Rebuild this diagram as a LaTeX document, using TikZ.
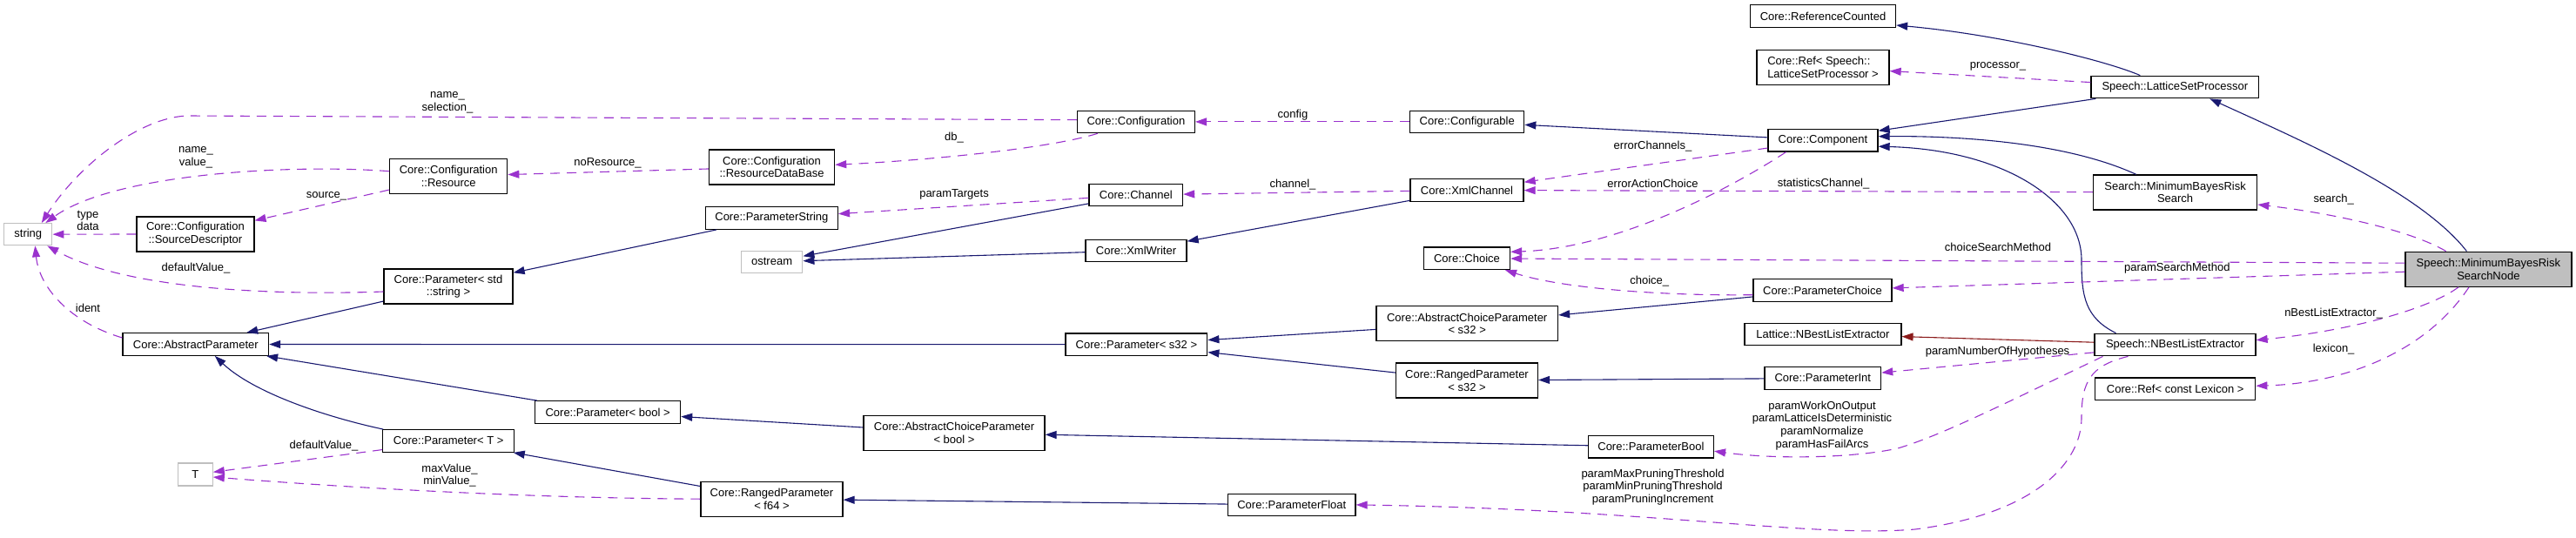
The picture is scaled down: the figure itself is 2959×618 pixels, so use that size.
\documentclass[tikz,border=0pt]{standalone}
\usepackage{fontspec}
\setmainfont{Liberation Sans}
\usetikzlibrary{arrows.meta}
\definecolor{navyc}{HTML}{191970}
\definecolor{orchidc}{HTML}{9A32CD}
\definecolor{redc}{HTML}{8B1A1A}
\definecolor{lgrayc}{HTML}{BFBFBF}
\begin{document}
\begin{tikzpicture}[x=1pt,y=-1pt,
  font=\fontsize{13}{14.7}\selectfont,
  cls/.style={draw=black, line width=1.3pt, fill=white, inner sep=0pt, minimum height=25.5pt, align=center},
  cls2/.style={cls, minimum height=40pt},
  ext/.style={draw=lgrayc, line width=1.3pt, fill=white, inner sep=0pt, minimum height=25pt},
  lbl/.style={inner sep=0pt, align=center},
  inh/.style={draw=navyc, line width=1.1pt, -{Triangle[length=13pt,width=9pt]}},
  use/.style={draw=orchidc, line width=1.1pt, dash pattern=on 11pt off 8pt, -{Triangle[length=13pt,width=9pt]}},
  pvt/.style={draw=redc, line width=1.1pt, -{Triangle[length=13pt,width=9pt]}},
]
\useasboundingbox (0,0) rectangle (2959,618);

% ---------- nodes ----------
\node[ext, minimum width=55pt] (string) at (32.3,269.2) {string};
\node[cls2, minimum width=135pt] (cfgResource) at (515.2,202.5) {Core::Configuration\\::Resource};
\node[cls2, minimum width=135pt] (srcDesc) at (224.4,268.9) {Core::Configuration\\::SourceDescriptor};
\node[cls2, minimum width=148pt] (paramStdString) at (515,329) {Core::Parameter< std\\::string >};
\node[cls, minimum width=167.5pt] (absParam) at (224.8,395.5) {Core::AbstractParameter};
\node[cls, minimum width=167pt] (paramBool) at (698.1,473.5) {Core::Parameter< bool >};
\node[cls, minimum width=151pt] (paramT) at (515.2,506.5) {Core::Parameter< T >};
\node[ext, minimum width=39.5pt, minimum height=26pt] (T) at (224.4,545) {T};
\node[cls, minimum width=135pt] (configuration) at (1304.9,139.9) {Core::Configuration};
\node[cls2, minimum width=144pt] (resDB) at (886.6,191.9) {Core::Configuration\\::ResourceDataBase};
\node[cls, minimum width=152pt] (paramString) at (886.4,250.5) {Core::ParameterString};
\node[cls, minimum width=107.5pt] (channel) at (1304.8,223.9) {Core::Channel};
\node[cls, minimum width=116pt] (xmlWriter) at (1305,287.9) {Core::XmlWriter};
\node[ext, minimum width=70.4pt] (ostream) at (886.6,300.8) {ostream};
\node[cls, minimum width=162.7pt] (paramS32) at (1305.4,395.7) {Core::Parameter< s32 >};
\node[cls2, minimum width=208pt] (acpBool) at (1096,497.2) {Core::AbstractChoiceParameter\\< bool >};
\node[cls2, minimum width=163pt] (rpF64) at (886.5,573.2) {Core::RangedParameter\\< f64 >};
\node[cls, minimum width=146.4pt] (paramFloat) at (1483.8,579.9) {Core::ParameterFloat};
\node[cls, minimum width=167pt] (refCounted) at (2094,18.5) {Core::ReferenceCounted};
\node[cls2, minimum width=152pt, align=left] (refLSP) at (2094,77.3) {Core::Ref< Speech::\\LatticeSetProcessor >};
\node[cls, minimum width=131pt] (configurable) at (1685.2,139.9) {Core::Configurable};
\node[cls, minimum width=126pt] (component) at (2094,161.2) {Core::Component};
\node[cls, minimum width=130pt] (xmlChannel) at (1685,218.4) {Core::XmlChannel};
\node[cls, minimum width=99pt] (choice) at (1685,296.8) {Core::Choice};
\node[cls, minimum width=159pt] (paramChoice) at (2093.5,333.4) {Core::ParameterChoice};
\node[cls2, minimum width=208.5pt] (acpS32) at (1685.2,371.8) {Core::AbstractChoiceParameter\\< s32 >};
\node[cls, minimum width=180pt] (latticeNBest) at (2093.9,383.9) {Lattice::NBestListExtractor};
\node[cls, minimum width=133.6pt] (paramInt) at (2093.8,434.5) {Core::ParameterInt};
\node[cls2, minimum width=163pt] (rpS32) at (1685,437) {Core::RangedParameter\\< s32 >};
\node[cls, minimum width=144pt] (paramBoolC) at (1896.4,513.2) {Core::ParameterBool};
\node[cls, minimum width=192.6pt] (lsp) at (2498.3,100) {Speech::LatticeSetProcessor};
\node[cls2, minimum width=188pt] (mbrSearch) at (2498.6,221) {Search::MinimumBayesRisk\\Search};
\node[cls2, minimum width=191pt, fill=lgrayc] (searchNode) at (2858.4,309.2) {Speech::MinimumBayesRisk\\SearchNode};
\node[cls, minimum width=185pt] (nbest) at (2498.5,396) {Speech::NBestListExtractor};
\node[cls, minimum width=184pt] (refLex) at (2498.7,446.7) {Core::Ref< const Lexicon >};

% ---------- inheritance ----------
\draw[inh] (paramStdString) -- (absParam);
\draw[inh] (paramBool) -- (absParam);
\draw[inh] ([xshift=-75pt]paramT.north) .. controls (370,478) and (290,450) .. ([xshift=22pt]absParam.south);
\draw[inh] (paramS32) -- (absParam);
\draw[inh] (rpF64) -- (paramT);
\draw[inh] (paramString) -- (paramStdString);
\draw[inh] (channel) -- (ostream);
\draw[inh] (xmlWriter) -- (ostream);
\draw[inh] (xmlChannel) -- (xmlWriter);
\draw[inh] (component) -- (configurable);
\draw[inh] (lsp) -- ([yshift=11pt]component.east);
\draw[inh] (mbrSearch) .. controls (2377,165) and (2260,156) .. ([yshift=4.5pt]component.east);
\draw[inh] ([xshift=-68pt]nbest.north) .. controls (2395,365) and (2391,340) .. (2391,300) .. controls (2392,230) and (2300,172) .. ([yshift=-7pt]component.east);
\draw[inh] ([xshift=-40pt]lsp.north) .. controls (2420,70) and (2300,40) .. ([yshift=-10.5pt]refCounted.east);
\draw[inh] ([xshift=-25pt]searchNode.north) .. controls (2780,220) and (2640,160) .. ([xshift=40pt]lsp.south);
\draw[inh] (paramChoice) -- (acpS32);
\draw[inh] (acpS32) -- (paramS32);
\draw[inh] (rpS32) -- (paramS32);
\draw[inh] (paramInt) -- (rpS32);
\draw[inh] (paramBoolC) -- (acpBool);
\draw[inh] (acpBool) -- (paramBool);
\draw[inh] (paramFloat) -- (rpF64);
\draw[pvt] (nbest) -- (latticeNBest);

% ---------- usage ----------
\draw[use] ([yshift=2.2pt]configuration.west) -- (215,133) .. controls (160,135) and (90,190) .. ([xshift=15.5pt]string.north);
\draw[use] ([yshift=5.8pt]cfgResource.west) .. controls (330,188) and (130,200) .. ([xshift=20pt]string.north);
\draw[use] (srcDesc) -- (string);
\draw[use] ([yshift=-6pt]paramStdString.west) .. controls (300,340) and (140,330) .. ([xshift=22pt]string.south);
\draw[use] ([yshift=7.5pt]absParam.west) .. controls (80,370) and (45,330) .. ([xshift=8pt]string.south);
\draw[use] (resDB) -- (cfgResource);
\draw[use] (cfgResource) -- (srcDesc);
\draw[use] ([xshift=-44pt]configuration.south) .. controls (1200,172) and (1050,185) .. ([yshift=2.6pt]resDB.east);
\draw[use] (channel) -- (paramString);
\draw[use] (configurable) -- (configuration);
\draw[use] (xmlChannel) -- (channel);
\draw[use] (component) -- (xmlChannel);
\draw[use] (mbrSearch) -- (xmlChannel);
\draw[use] ([xshift=-42.4pt]component.south) .. controls (1990,215) and (1860,285) .. ([yshift=7.5pt]choice.east);
\draw[use] ([yshift=-5.3pt]paramChoice.west) .. controls (1900,340) and (1790,330) .. ([xshift=44pt]choice.south);
\draw[use] ([yshift=7pt]searchNode.west) -- (choice);
\draw[use] (searchNode) -- (paramChoice);
\draw[use] (lsp) -- (refLSP);
\draw[use] ([xshift=-48.8pt]searchNode.north) .. controls (2770,265) and (2680,245) .. ([yshift=-14pt]mbrSearch.east);
\draw[use] ([xshift=-34.4pt]searchNode.south) .. controls (2790,355) and (2700,380) .. ([yshift=5.3pt]nbest.east);
\draw[use] ([xshift=-22.4pt]searchNode.south) .. controls (2790,400) and (2700,440) .. ([yshift=3.4pt]refLex.east);
\draw[use] (nbest) -- (paramInt);
\draw[use] ([xshift=-83pt]nbest.south) .. controls (2300,465) and (2230,500) .. (2180,515) .. controls (2130,526) and (2040,528) .. ([yshift=-5pt]paramBoolC.east);
\draw[use] ([xshift=-54pt]nbest.south) .. controls (2400,420) and (2391,440) .. (2391,480) .. controls (2391,530) and (2340,590) .. (2200,608) .. controls (2080,618) and (1900,585) .. (paramFloat.east);
\draw[use] (paramT) -- (T);
\draw[use] (rpF64.west) .. controls (600,572) and (400,560) .. ([yshift=-3pt]T.east);

% ---------- labels ----------
\node[lbl] (lNameSel) at (514,118) {name\_\\selection\_};
\node[lbl] (lNameVal) at (225,180.5) {name\_\\value\_};
\node[lbl] (lTypeData) at (101,253.5) {type\\data};
\node[lbl] (lDefStr) at (225,308) {defaultValue\_};
\node[lbl] (lIdent) at (101,354) {ident};
\node[lbl] (lNoRes) at (698,187) {noResource\_};
\node[lbl] (lSource) at (375,225) {source\_};
\node[lbl] (lDb) at (1096,158) {db\_};
\node[lbl] (lTargets) at (1096,223) {paramTargets};
\node[lbl] (lConfig) at (1485,132) {config};
\node[lbl] (lChannel) at (1485,212) {channel\_};
\node[lbl] (lErrCh) at (1898.5,168) {errorChannels\_};
\node[lbl] (lErrAct) at (1898.5,211) {errorActionChoice};
\node[lbl] (lStat) at (2094.6,210.7) {statisticsChannel\_};
\node[lbl] (lChoice) at (1894.7,322.7) {choice\_};
\node[lbl] (lChoiceSM) at (2295,283.7) {choiceSearchMethod};
\node[lbl] (lParamSM) at (2500.8,308) {paramSearchMethod};
\node[lbl] (lProc) at (2295,76) {processor\_};
\node[lbl] (lSearch) at (2680.6,229) {search\_};
\node[lbl] (lNBest) at (2680.6,360) {nBestListExtractor\_};
\node[lbl] (lLex) at (2680.6,400.7) {lexicon\_};
\node[lbl] (lHyp) at (2294.5,403.7) {paramNumberOfHypotheses};
\node[lbl] (lBools) at (2093,488.7) {paramWorkOnOutput\\paramLatticeIsDeterministic\\paramNormalize\\paramHasFailArcs};
\node[lbl] (lFloats) at (1898.5,559.5) {paramMaxPruningThreshold\\paramMinPruningThreshold\\paramPruningIncrement};
\node[lbl] (lDefT) at (372,512) {defaultValue\_};
\node[lbl] (lMaxMin) at (516.5,546) {maxValue\_\\minValue\_};
\end{tikzpicture}
\end{document}
